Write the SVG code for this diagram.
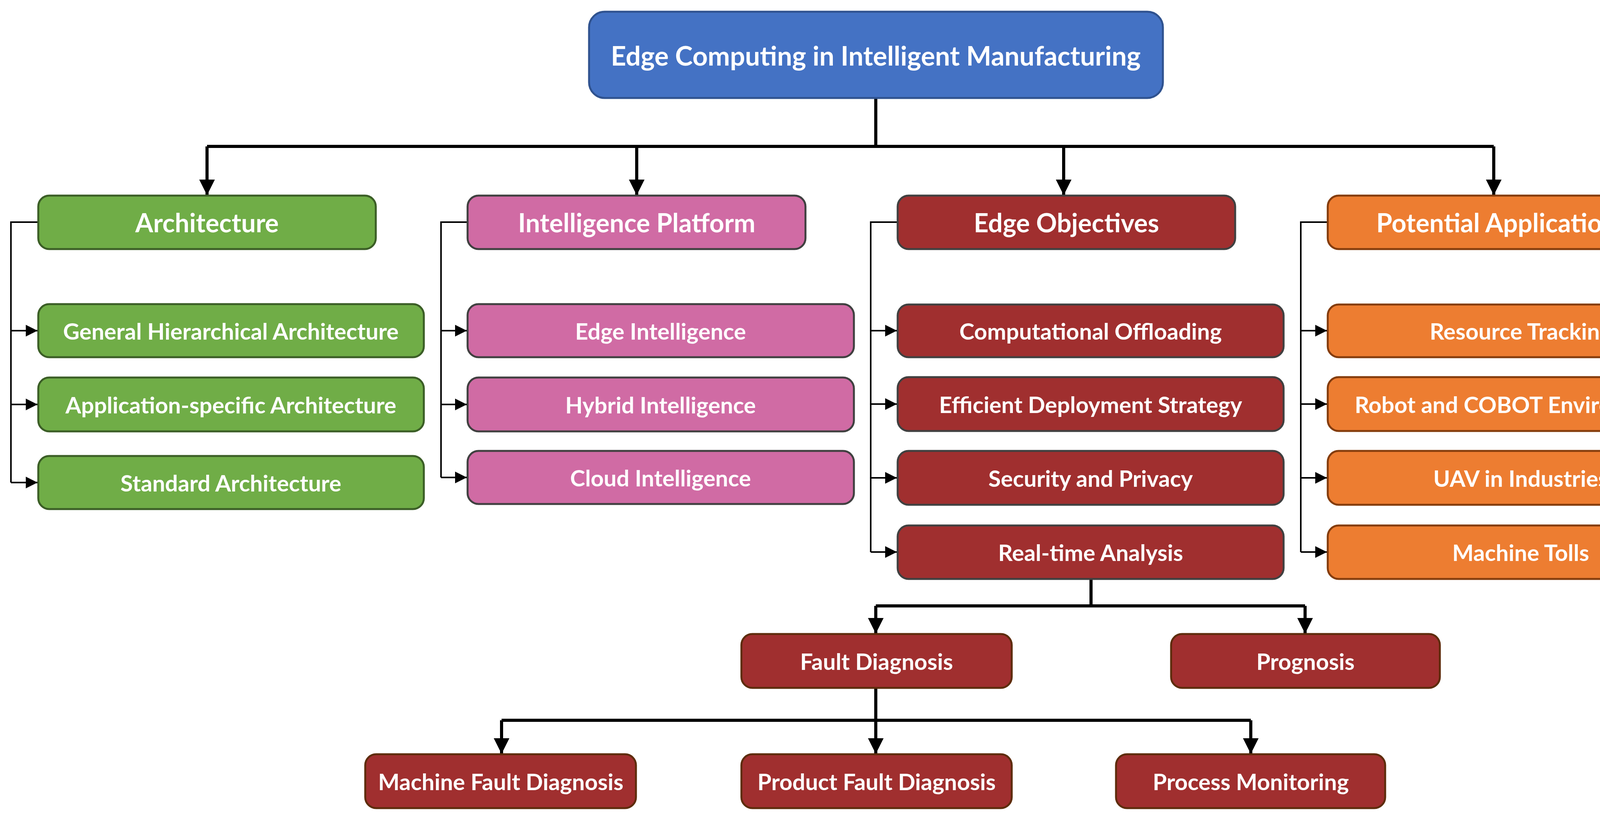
<svg xmlns="http://www.w3.org/2000/svg" width="4415" height="2103" viewBox="0 0 4415 2103">
<style>
.t{font-family:Lato,"Open Sans",sans-serif;font-weight:bold;fill:#fff;text-anchor:middle;dominant-baseline:central}
.r{font-size:68px}.h{font-size:66px}.c{font-size:58px}
.bus{stroke:#000;stroke-width:8;fill:none}
.side{stroke:#000;stroke-width:4;fill:none}
.blue{fill:#4472C4;stroke:#2F528F;stroke-width:5}
.green{fill:#70AD47;stroke:#3B5E26;stroke-width:5}
.pink{fill:#D06BA4;stroke:#404040;stroke-width:5}
.red{fill:#A02F2F;stroke:#404040;stroke-width:5}
.red2{fill:#A02F2F;stroke:#5E2C0C;stroke-width:5}
.orange{fill:#ED7D31;stroke:#843C0C;stroke-width:5}
</style>
<defs>
<marker id="a" markerUnits="userSpaceOnUse" markerWidth="40" markerHeight="60" refX="40" refY="20" orient="auto" viewBox="0 0 40 40"><path d="M0,0 L40,20 L0,40 Z" fill="#000"/></marker>
<marker id="s" markerUnits="userSpaceOnUse" markerWidth="30" markerHeight="40" refX="30" refY="15" orient="auto" viewBox="0 0 30 30"><path d="M0,0 L30,15 L0,30 Z" fill="#000"/></marker>
</defs>
<g id="connectors">
<path class="bus" d="M2242,251 V375 M530,375 H3824"/>
<path class="bus" d="M530,375 V500" marker-end="url(#a)"/>
<path class="bus" d="M1630,375 V500" marker-end="url(#a)"/>
<path class="bus" d="M2723,375 V500" marker-end="url(#a)"/>
<path class="bus" d="M3824,375 V500" marker-end="url(#a)"/>
<path class="side" d="M98,569 H28 V1236"/>
<path class="side" d="M28,847 H96" marker-end="url(#s)"/>
<path class="side" d="M28,1036 H96" marker-end="url(#s)"/>
<path class="side" d="M28,1236 H96" marker-end="url(#s)"/>
<path class="side" d="M1197,569 H1129 V1223"/>
<path class="side" d="M1129,847 H1195" marker-end="url(#s)"/>
<path class="side" d="M1129,1036 H1195" marker-end="url(#s)"/>
<path class="side" d="M1129,1223 H1195" marker-end="url(#s)"/>
<path class="side" d="M2298,569 H2229 V1414"/>
<path class="side" d="M2229,847 H2296" marker-end="url(#s)"/>
<path class="side" d="M2229,1035 H2296" marker-end="url(#s)"/>
<path class="side" d="M2229,1224 H2296" marker-end="url(#s)"/>
<path class="side" d="M2229,1414 H2296" marker-end="url(#s)"/>
<path class="side" d="M3399,569 H3330 V1414"/>
<path class="side" d="M3330,847 H3397" marker-end="url(#s)"/>
<path class="side" d="M3330,1035 H3397" marker-end="url(#s)"/>
<path class="side" d="M3330,1224 H3397" marker-end="url(#s)"/>
<path class="side" d="M3330,1414 H3397" marker-end="url(#s)"/>
<path class="bus" d="M2793,1485 V1552 M2242,1552 H3341"/>
<path class="bus" d="M2242,1552 V1623" marker-end="url(#a)"/>
<path class="bus" d="M3341,1552 V1623" marker-end="url(#a)"/>
<path class="bus" d="M2242,1762 V1845 M1284,1845 H3202"/>
<path class="bus" d="M1284,1845 V1931" marker-end="url(#a)"/>
<path class="bus" d="M2242,1845 V1931" marker-end="url(#a)"/>
<path class="bus" d="M3202,1845 V1931" marker-end="url(#a)"/>
</g>
<g id="root"><rect class="blue" x="1508" y="30" width="1469" height="221" rx="40"/><text class="t r" x="2242" y="141">Edge Computing in Intelligent Manufacturing</text></g>
<g id="architecture"><rect class="green" x="98" y="501" width="864" height="137" rx="28"/><text class="t h" x="530" y="569">Architecture</text></g>
<g id="general-hierarchical"><rect class="green" x="98" y="779" width="987" height="136" rx="28"/><text class="t c" x="591" y="847">General Hierarchical Architecture</text></g>
<g id="application-specific"><rect class="green" x="98" y="967" width="987" height="138" rx="28"/><text class="t c" x="591" y="1036">Application-specific Architecture</text></g>
<g id="standard"><rect class="green" x="98" y="1168" width="987" height="136" rx="28"/><text class="t c" x="591" y="1236">Standard Architecture</text></g>
<g id="intelligence-platform"><rect class="pink" x="1197" y="501" width="865" height="137" rx="28"/><text class="t h" x="1630" y="569">Intelligence Platform</text></g>
<g id="edge-intelligence"><rect class="pink" x="1197" y="779" width="989" height="136" rx="28"/><text class="t c" x="1691" y="847">Edge Intelligence</text></g>
<g id="hybrid-intelligence"><rect class="pink" x="1197" y="967" width="989" height="138" rx="28"/><text class="t c" x="1691" y="1036">Hybrid Intelligence</text></g>
<g id="cloud-intelligence"><rect class="pink" x="1197" y="1155" width="989" height="136" rx="28"/><text class="t c" x="1691" y="1223">Cloud Intelligence</text></g>
<g id="edge-objectives"><rect class="red" x="2298" y="501" width="864" height="137" rx="28"/><text class="t h" x="2730" y="569">Edge Objectives</text></g>
<g id="computational-offloading"><rect class="red" x="2298" y="780" width="988" height="135" rx="28"/><text class="t c" x="2792" y="847">Computational Offloading</text></g>
<g id="efficient-deployment"><rect class="red" x="2298" y="966" width="988" height="138" rx="28"/><text class="t c" x="2792" y="1035">Efficient Deployment Strategy</text></g>
<g id="security-privacy"><rect class="red" x="2298" y="1155" width="988" height="138" rx="28"/><text class="t c" x="2792" y="1224">Security and Privacy</text></g>
<g id="real-time-analysis"><rect class="red" x="2298" y="1346" width="988" height="137" rx="28"/><text class="t c" x="2792" y="1414">Real-time Analysis</text></g>
<g id="potential-application"><rect class="orange" x="3399" y="501" width="864" height="137" rx="28"/><text class="t h" x="3831" y="569">Potential Application</text></g>
<g id="resource-tracking"><rect class="orange" x="3399" y="780" width="988" height="135" rx="28"/><text class="t c" x="3893" y="847">Resource Tracking</text></g>
<g id="robot-cobot"><rect class="orange" x="3399" y="966" width="988" height="138" rx="28"/><text class="t c" x="3893" y="1035">Robot and COBOT Environments</text></g>
<g id="uav"><rect class="orange" x="3399" y="1155" width="988" height="138" rx="28"/><text class="t c" x="3893" y="1224">UAV in Industries</text></g>
<g id="machine-tolls"><rect class="orange" x="3399" y="1346" width="988" height="137" rx="28"/><text class="t c" x="3893" y="1414">Machine Tolls</text></g>
<g id="fault-diagnosis"><rect class="red2" x="1898" y="1624" width="692" height="138" rx="28"/><text class="t c" x="2244" y="1693">Fault Diagnosis</text></g>
<g id="prognosis"><rect class="red2" x="2998" y="1624" width="688" height="138" rx="28"/><text class="t c" x="3342" y="1693">Prognosis</text></g>
<g id="machine-fault"><rect class="red2" x="935" y="1932" width="693" height="138" rx="28"/><text class="t c" x="1282" y="2001">Machine Fault Diagnosis</text></g>
<g id="product-fault"><rect class="red2" x="1898" y="1932" width="692" height="138" rx="28"/><text class="t c" x="2244" y="2001">Product Fault Diagnosis</text></g>
<g id="process-monitoring"><rect class="red2" x="2857" y="1932" width="689" height="138" rx="28"/><text class="t c" x="3202" y="2001">Process Monitoring</text></g>
</svg>
